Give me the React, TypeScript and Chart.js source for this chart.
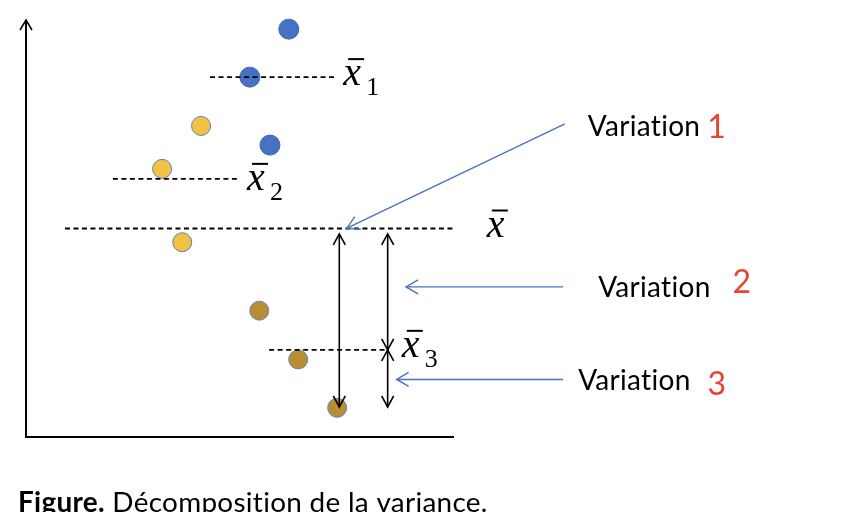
import React, { useEffect, useRef } from "react";
import { Chart, registerables } from "chart.js";

Chart.register(...registerables);

// ---- data (diagram units: x 0..100 along the horizontal axis, y 0..100 along the vertical axis)
const blueX = [61.4, 52.3, 57.0];
const blueY = [97.8, 86.3, 70.0];
const yellowX = [40.9, 31.8, 36.5];
const yellowY = [74.6, 64.3, 46.7];
const brownX = [54.5, 63.6, 72.7];
const brownY = [30.3, 18.6, 7.0];

const meanSubscripts = ["1", "2", "", "3"];
const meanY = [86.3, 61.9, 50.0, 20.9];
const meanXStart = [43.0, 20.3, 9.1, 56.8];
const meanXEnd = [72.7, 50.0, 100.2, 84.3];

const spanX = [73.2, 84.5, 84.5];
const spanYTop = [48.7, 48.7, 20.9];
const spanYBottom = [7.2, 20.9, 7.2];

const pointerFromX = [125.9, 125.5, 125.5];
const pointerFromY = [75.1, 36.0, 13.8];
const pointerToX = [75.0, 88.8, 86.6];
const pointerToY = [50.1, 36.0, 13.8];

const variationText = ["Variation", "Variation", "Variation"];
const variationNumber = ["1", "2", "3"];

const captionBold = "Figure.";
const captionText = " Décomposition de la variance.";

// ---- styling
const labelDx = [6, 7, 32, 15];
const labelDy = [8, 11, 8, 7];
const textDx = [23, 35, 15];
const textDy = [12, 10, 11];
const numGap = [7, 22, 17];
const numDy = [2, -4, 5];

function chevron(ctx: CanvasRenderingContext2D, fx: number, fy: number, tx: number, ty: number, len: number, half: number) {
  const ang = Math.atan2(ty - fy, tx - fx);
  const ux = Math.cos(ang), uy = Math.sin(ang);
  const bx = tx - ux * len, by = ty - uy * len;
  ctx.beginPath();
  ctx.moveTo(bx - uy * half, by + ux * half);
  ctx.lineTo(tx, ty);
  ctx.lineTo(bx + uy * half, by - ux * half);
  ctx.stroke();
}

const annotate = {
  id: "annotate",
  afterDatasetsDraw(chart: any) {
    const { ctx, chartArea: a } = chart;
    const xs = chart.scales.x, ys = chart.scales.y;
    const px = (v: number) => xs.getPixelForValue(v);
    const py = (v: number) => ys.getPixelForValue(v);
    ctx.save();
    ctx.lineCap = "butt";
    // axes
    ctx.strokeStyle = "#000";
    ctx.lineWidth = 2;
    ctx.beginPath();
    ctx.moveTo(a.left, a.top);
    ctx.lineTo(a.left, a.bottom);
    ctx.lineTo(a.right, a.bottom);
    ctx.stroke();
    ctx.lineWidth = 1.5;
    chevron(ctx, a.left, a.bottom, a.left, a.top, 10, 6);

    // double arrows (spans)
    ctx.lineWidth = 1.6;
    for (let i = 0; i < spanX.length; i++) {
      const x = px(spanX[i]);
      const t = py(spanYTop[i]);
      const b = py(spanYBottom[i]);
      ctx.beginPath();
      ctx.moveTo(x, t);
      ctx.lineTo(x, b);
      ctx.stroke();
      chevron(ctx, x, b, x, t, 11, 6);
      chevron(ctx, x, t, x, b, 11, 6);
    }

    // blue pointers
    ctx.strokeStyle = "#4A72C4";
    ctx.lineWidth = 1.4;
    for (let i = 0; i < pointerFromX.length; i++) {
      const fx = px(pointerFromX[i]), fy = py(pointerFromY[i]);
      const tx = px(pointerToX[i]), ty = py(pointerToY[i]);
      ctx.beginPath();
      ctx.moveTo(fx, fy);
      ctx.lineTo(tx, ty);
      ctx.stroke();
      chevron(ctx, fx, fy, tx, ty, 12, 7);
    }

    // mean labels
    ctx.fillStyle = "#000";
    ctx.strokeStyle = "#000";
    ctx.textBaseline = "alphabetic";
    ctx.textAlign = "left";
    for (let i = 0; i < meanY.length; i++) {
      const x0 = px(meanXEnd[i]) + labelDx[i];
      const base = py(meanY[i]) + labelDy[i];
      ctx.font = "italic 40px 'Liberation Serif', 'DejaVu Serif', serif";
      ctx.fillText("x", x0, base);
      ctx.lineWidth = 2;
      ctx.beginPath();
      ctx.moveTo(x0 + 5, base - 26);
      ctx.lineTo(x0 + 21, base - 26);
      ctx.stroke();
      if (meanSubscripts[i]) {
        ctx.font = "26px 'Liberation Serif', 'DejaVu Serif', serif";
        ctx.fillText(meanSubscripts[i], x0 + 23, base + 10);
      }
    }

    // no optional ligatures (e.g. "ti") in the sans texts
    (ctx as any).letterSpacing = "0.3px";

    // variation labels
    for (let i = 0; i < variationText.length; i++) {
      const tx = px(pointerFromX[i]) + textDx[i];
      const base = py(pointerFromY[i]) + textDy[i];
      ctx.font = "28px Lato, 'Open Sans', sans-serif";
      ctx.fillStyle = "#000";
      ctx.fillText(variationText[i], tx, base);
      const w = ctx.measureText(variationText[i]).width;
      ctx.font = "32px Lato, 'Open Sans', sans-serif";
      ctx.fillStyle = "#E8432E";
      ctx.fillText(variationNumber[i], tx + w + numGap[i], base + numDy[i]);
    }

    // caption
    ctx.fillStyle = "#000";
    const targetW = 462;
    ctx.font = "bold 100px Lato, 'Open Sans', sans-serif";
    const wb = ctx.measureText(captionBold).width;
    ctx.font = "100px Lato, 'Open Sans', sans-serif";
    const wr = ctx.measureText(captionText).width;
    const size = (100 * targetW) / (wb + wr);
    ctx.font = `bold ${size}px Lato, 'Open Sans', sans-serif`;
    ctx.fillText(captionBold, 18, 512);
    const wb2 = ctx.measureText(captionBold).width;
    ctx.font = `${size}px Lato, 'Open Sans', sans-serif`;
    ctx.fillText(captionText, 18 + wb2, 512);
    ctx.restore();
  },
};

export default function App() {
  const ref = useRef<HTMLCanvasElement | null>(null);
  useEffect(() => {
    if (!ref.current) return;
    const toPts = (xs: number[], ys: number[]) => xs.map((v, i) => ({ x: v, y: ys[i] }));
    const meanSets = meanY.map((yv, i) => ({
      type: "line" as const,
      data: [
        { x: meanXStart[i], y: yv },
        { x: meanXEnd[i], y: yv },
      ],
      borderColor: "#000",
      borderWidth: 1.8,
      borderDash: [5, 3.5],
      pointRadius: 0,
      showLine: true,
      order: 0,
      clip: false as any,
    }));
    const chart = new Chart(ref.current, {
      type: "scatter",
      data: {
        datasets: [
          ...meanSets,
          {
            data: toPts(blueX, blueY),
            backgroundColor: "#4671C5",
            borderColor: "#3F66B6",
            borderWidth: 1,
            pointRadius: 10,
            order: 1,
            clip: false as any,
          },
          {
            data: toPts(yellowX, yellowY),
            backgroundColor: "#F4C243",
            borderColor: "#5A7EC6",
            borderWidth: 1,
            pointRadius: 9.5,
            order: 1,
            clip: false as any,
          },
          {
            data: toPts(brownX, brownY),
            backgroundColor: "#B88F30",
            borderColor: "#6A80B8",
            borderWidth: 1,
            pointRadius: 9.5,
            order: 1,
            clip: false as any,
          },
        ] as any,
      },
      options: {
        animation: false,
        responsive: false,
        devicePixelRatio: 1,
        events: [],
        layout: { padding: { left: 26, top: 20, right: 398, bottom: 75 } },
        plugins: { legend: { display: false }, tooltip: { enabled: false } },
        scales: {
          x: { type: "linear", min: 0, max: 100, display: false },
          y: { type: "linear", min: 0, max: 100, display: false },
        },
      },
      plugins: [annotate],
    });
    return () => chart.destroy();
  }, []);
  return (
    <div style={{ position: "absolute", left: 0, top: 0, width: 852, height: 512, background: "#fff" }}>
      <canvas ref={ref} width={852} height={512} style={{ display: "block" }} />
    </div>
  );
}
